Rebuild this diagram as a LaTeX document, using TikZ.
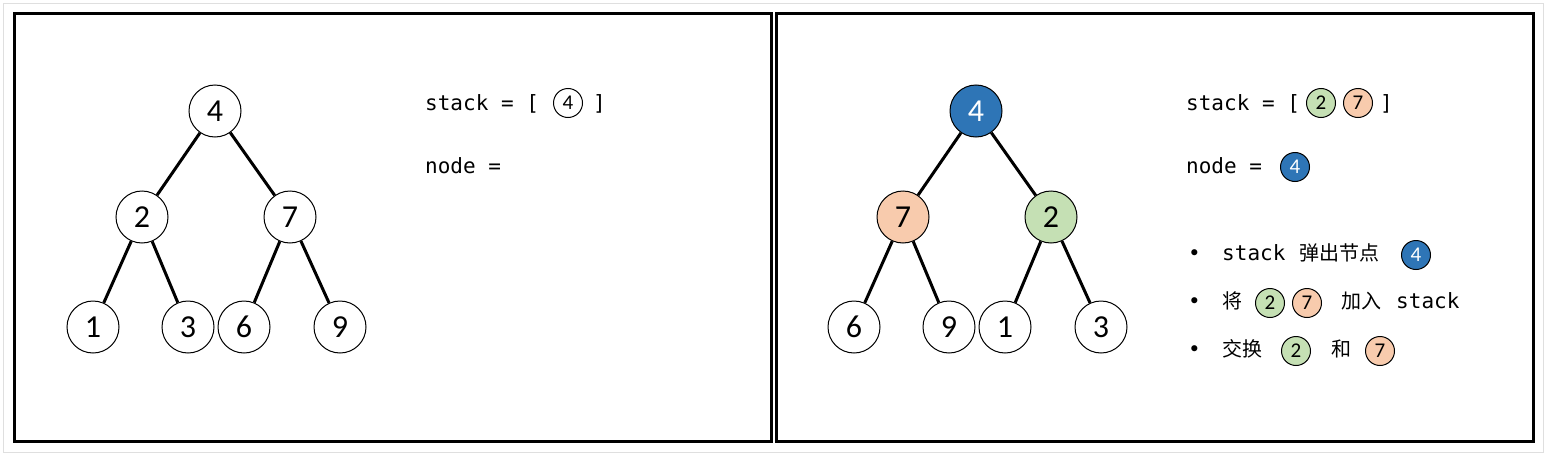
\documentclass[tikz,border=0pt]{standalone}
\usepackage{fontspec}
\setmainfont{Carlito}
\setmonofont{DejaVu Sans Mono}
\newfontfamily\cjk{Noto Sans CJK SC}
\definecolor{popblue}{HTML}{2E75B6}
\definecolor{pushgreen}{HTML}{C5E0B4}
\definecolor{pushorange}{HTML}{F8CBAD}
\tikzset{
  treenode/.style={circle,draw,line width=1pt,minimum size=52pt,inner sep=0pt,
    font=\fontsize{32}{32}\selectfont},
  smallnode/.style={circle,draw,line width=1pt,minimum size=29pt,inner sep=0pt,
    font=\fontsize{21}{21}\selectfont},
  plainnode/.style={fill=white},
  bluenode/.style={fill=popblue,text=white},
  greennode/.style={fill=pushgreen},
  orangenode/.style={fill=pushorange},
  edge/.style={line width=3pt},
  panel/.style={line width=3pt},
  code/.style={anchor=base west,inner sep=0pt,font=\fontsize{21}{21}\ttfamily},
  zh/.style={anchor=base west,inner sep=0pt,font=\fontsize{20}{20}\cjk},
}
\begin{document}
\begin{tikzpicture}[x=1pt,y=-1pt]
  \useasboundingbox (0,0) rectangle (1547,455);
  \draw[gray!25,line width=1pt] (3,3) rectangle (1543,452);
  \draw[panel] (14,13) rectangle (771,441);
  \draw[panel] (776,13) rectangle (1533,441);
  % left tree
  \foreach \n/\x/\y/\t in
    {a/215/111/4, b/142/217/2, c/290/217/7, d/93/327/1, e/188/327/3, f/244/327/6, g/340/327/9}
    \node[treenode] (L\n) at (\x,\y) {\t};
  \foreach \p/\c in {a/b,a/c,b/d,b/e,c/f,c/g}
    \draw[edge] (L\p) -- (L\c);
  % right tree
  \foreach \n/\x/\y/\t/\s in
    {a/976/111/4/bluenode, b/903/217/7/orangenode, c/1051/217/2/greennode,
     d/854/327/6/plainnode, e/949/327/9/plainnode, f/1005/327/1/plainnode, g/1101/327/3/plainnode}
    \node[treenode,\s] (R\n) at (\x,\y) {\t};
  \foreach \p/\c in {a/b,a/c,b/d,b/e,c/f,c/g}
    \draw[edge] (R\p) -- (R\c);
  % left text
  \node[code] (Lstack) at (425,110) {stack = [};
  \node[smallnode] (Ls4) at (568,103) {4};
  \node[code] (Lclose) at (593,110) {]};
  \node[code] (Lnode) at (425,173) {node =};
  % right text
  \node[code] (Rstack) at (1186,110) {stack = [};
  \node[smallnode,greennode] (Rs2) at (1321,103) {2};
  \node[smallnode,orangenode] (Rs7) at (1358,103) {7};
  \node[code] (Rclose) at (1380,110) {]};
  \node[code] (Rnode) at (1186,173) {node =};
  \node[smallnode,bluenode] (Rn4) at (1295,167) {4};
  % steps
  \foreach \i/\y in {1/260,2/308,3/356}
    \node[code] (dot\i) at (1188,\y) {•};
  \node[code] (stepa) at (1222,260) {stack};
  \node[zh] (stepb) at (1299,260) {弹出节点};
  \node[smallnode,bluenode] (stepc) at (1416,255) {4};
  \node[zh] (stepd) at (1222,308) {将};
  \node[smallnode,greennode] (stepe) at (1270,303) {2};
  \node[smallnode,orangenode] (stepf) at (1307,303) {7};
  \node[zh] (stepg) at (1341,308) {加入};
  \node[code] (steph) at (1396,308) {stack};
  \node[zh] (stepi) at (1222,356) {交换};
  \node[smallnode,greennode] (stepj) at (1296,351) {2};
  \node[zh] (stepk) at (1331,356) {和};
  \node[smallnode,orangenode] (stepl) at (1380,351) {7};
\end{tikzpicture}
\end{document}
